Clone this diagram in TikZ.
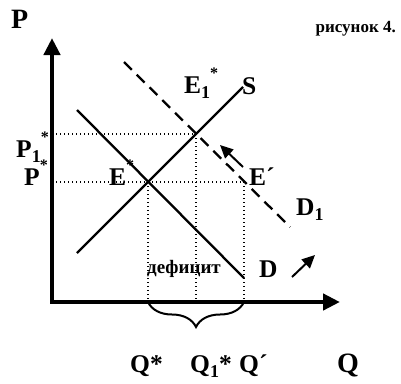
\documentclass[tikz,border=0pt]{standalone}
\usepackage{fontspec}
\setmainfont{Liberation Serif}
\usetikzlibrary{arrows.meta,decorations.pathreplacing}
\newcommand{\lowidx}[1]{\raisebox{-0.22em}{\fontsize{18}{18}\selectfont #1}}
\newcommand{\highidx}[1]{\raisebox{0.55em}{\fontsize{16}{16}\selectfont #1}}
\begin{document}
\begin{tikzpicture}[x=1pt,y=-1pt,
  axisline/.style={line width=4.5pt,line join=miter,{Triangle[length=17pt,width=16pt]}-{Triangle[length=17pt,width=16pt]}},
  curve/.style={line width=2.3pt},
  dashcurve/.style={line width=2.3pt,dash pattern=on 11pt off 7pt},
  guide/.style={line width=1.3pt,dash pattern=on 1.3pt off 2.7pt},
  shiftarrow/.style={line width=2pt,-{Triangle[length=13pt,width=12pt]}},
  lbl/.style={inner sep=0pt,anchor=base west,font=\fontsize{25.5}{27}\selectfont\bfseries},
  big/.style={inner sep=0pt,anchor=base west,font=\fontsize{28}{30}\selectfont\bfseries},
  small/.style={inner sep=0pt,anchor=base east,font=\fontsize{17}{19}\selectfont\bfseries},
  deficit/.style={inner sep=0pt,anchor=base west,font=\fontsize{19}{21}\selectfont\bfseries}
]
\useasboundingbox (0,0) rectangle (401,383);
% key points
\coordinate (O) at (52,302);
\coordinate (Ytop) at (52,38);
\coordinate (Xend) at (340,302);
\coordinate (Sa) at (77,253);
\coordinate (Sb) at (243,87);
\coordinate (Da) at (77,110);
\coordinate (Db) at (244,278);
\coordinate (D1a) at (124,62);
\coordinate (D1b) at (290,227);
\coordinate (E) at (148,182);
\coordinate (E1) at (196,134);
\coordinate (Ep) at (244,182);
\coordinate (P1ax) at (52,134);
\coordinate (Pax) at (52,182);
\coordinate (Qsax) at (148,302);
\coordinate (Q1ax) at (196,302);
\coordinate (Qpax) at (244,302);
\coordinate (Ua) at (243,167);
\coordinate (Ub) at (220,145);
\coordinate (Va) at (292,277);
\coordinate (Vb) at (315,255);
% guides
\draw[guide] (P1ax) -- (E1);
\draw[guide] (Pax) -- (Ep);
\draw[guide] (E) -- (Qsax);
\draw[guide] (E1) -- (Q1ax);
\draw[guide] (Ep) -- (Qpax);
% curves
\draw[curve] (Sa) -- (Sb);
\draw[curve] (Da) -- (Db);
\draw[dashcurve] (D1a) -- (D1b);
% axes
\draw[axisline] (Ytop) -- (O) -- (Xend);
% brace
\draw[line width=2pt,decorate,decoration={brace,mirror,amplitude=25pt}] (Qsax) -- (Qpax);
% shift arrows
\draw[shiftarrow] (Ua) -- (Ub);
\draw[shiftarrow] (Va) -- (Vb);
% labels
\node[big] (lP) at (11,28) {P};
\node[small] (lfig) at (396,32) {рисунок 4.};
\node[lbl] (lE1) at (184,93) {E\lowidx{1}\highidx{*}};
\node[lbl] (lS) at (242,94) {S};
\node[lbl] (lP1) at (16,157) {P\lowidx{1}\highidx{*}};
\node[lbl] (lPs) at (24,185) {P\highidx{*}};
\node[lbl] (lEs) at (109,185) {E\highidx{*}};
\node[lbl] (lEp) at (249,185) {E´};
\node[lbl] (lD1) at (296,215) {D\lowidx{1}};
\node[lbl] (lD) at (259,277) {D};
\node[deficit] (ldef) at (147,273) {дефицит};
\node[lbl] (lQs) at (130,372) {Q*};
\node[lbl] (lQ1) at (190,372) {Q\lowidx{1}*};
\node[lbl] (lQp) at (239,372) {Q´};
\node[big] (lQ) at (337,372) {Q};
\end{tikzpicture}
\end{document}
